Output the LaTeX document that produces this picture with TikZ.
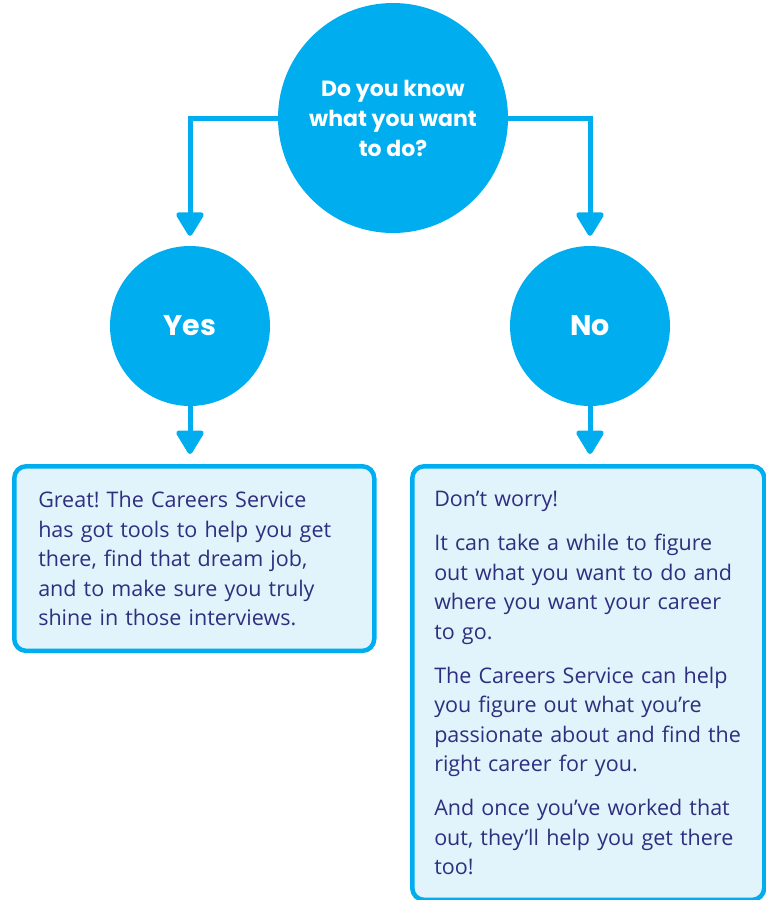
\documentclass[tikz,border=0pt]{standalone}
\usepackage{fontspec}
\setmainfont{Open Sans}
\newfontfamily\headfont{Poppins}
\usetikzlibrary{arrows.meta}
\definecolor{careerblue}{HTML}{00AEEF}
\definecolor{careernavy}{HTML}{2E2F7F}
\definecolor{careerpale}{HTML}{E1F3FB}
\frenchspacing
\begin{document}
\begin{tikzpicture}[
        x=1pt, y=-1pt,
        bubble/.style={circle, fill=careerblue, text=white, align=center, inner sep=0pt,
          font=\headfont\bfseries\fontsize{22}{30}\selectfont},
        answer/.style={bubble, minimum size=160pt, font=\headfont\bfseries\fontsize{28.5}{32}\selectfont},
        infobox/.style={draw=careerblue, line width=4.5pt, fill=careerpale, rounded corners=12pt,
          text=careernavy, align=left, anchor=north west, inner xsep=24pt, inner ysep=25pt,
          font=\fontsize{21.5}{29.5}\selectfont},
        conn/.style={careerblue, line width=5pt, -{Triangle[width=30pt, length=26pt, round]},
          shorten >=10pt}
      ]
      \useasboundingbox (0,0) rectangle (766,900);
      % question and answers
      \node[bubble, minimum size=230pt] (question) at (393,118) {Do you know\\what you want\\to do?};
      \node[answer] (yes) at (190,326) {Yes};
      \node[answer] (no) at (590,326) {No};
      % advice boxes
      \node[infobox, text width=312pt] (yesbox) at (12,464)
        {Great! The Careers Service\\has got tools to help you get\\there, find that dream job,\\and to make sure you truly\\shine in those interviews.};
      \node[infobox, inner xsep=22pt, text width=308pt] (nobox) at (410,464)
        {Don’t worry!\\[14.5pt]
         It can take a while to figure\\out what you want to do and\\where you want your career\\to go.\\[14.5pt]
         The Careers Service can help\\you figure out what you’re\\passionate about and find the\\right career for you.\\[14.5pt]
         And once you’ve worked that\\out, they’ll help you get there\\too!};
      % connectors
      \draw[conn] (question.west) -| (yes.north);
      \draw[conn] (question.east) -| (no.north);
      \draw[conn] (yes.south) -- (yes.south |- yesbox.north);
      \draw[conn] (no.south) -- (no.south |- nobox.north);
\end{tikzpicture}
\end{document}
